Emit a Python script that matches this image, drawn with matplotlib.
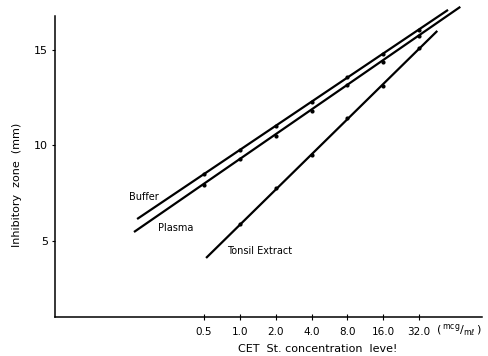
import matplotlib
matplotlib.use('Agg')
import matplotlib.pyplot as plt

# concentration levels (mcg/ml) and inhibitory zone (mm)
conc = [0.5, 1.0, 2.0, 4.0, 8.0, 16.0, 32.0]
conc_labels = ['0.5', '1.0', '2.0', '4.0', '8.0', '16.0', '32.0']
buffer_zone = [8.5, 9.76, 11.02, 12.28, 13.59, 14.79, 16.05]
plasma_zone = [7.93, 9.3, 10.5, 11.81, 13.17, 14.37, 15.73]
tonsil_conc = [1.0, 2.0, 4.0, 8.0, 16.0, 32.0]
tonsil_zone = [5.89, 7.77, 9.5, 11.44, 13.12, 15.1]

# fitted lines (start / end)
buffer_fit_x = [0.137, 56.0]
buffer_fit_y = [6.15, 17.1]
plasma_fit_x = [0.129, 71.0]
plasma_fit_y = [5.47, 17.26]
tonsil_fit_x = [0.52, 45.5]
tonsil_fit_y = [4.11, 16.0]

fig = plt.figure(figsize=(4.88, 3.56), dpi=100)
ax = fig.add_axes([55/488, 1-317/356, 427/488, 301/356])

ax.set_xscale('log', base=2)
ax.set_xlim(0.028, 108)
ax.set_ylim(1.02, 16.78)

for fx, fy in [(buffer_fit_x, buffer_fit_y), (plasma_fit_x, plasma_fit_y), (tonsil_fit_x, tonsil_fit_y)]:
    ax.plot(fx, fy, color='black', lw=1.6, clip_on=False, solid_capstyle='butt')
for cx, cy in [(conc, buffer_zone), (conc, plasma_zone), (tonsil_conc, tonsil_zone)]:
    ax.plot(cx, cy, 'o', color='black', ms=2.0, clip_on=False)

ax.text(0.117, 7.3, 'Buffer', fontsize=7, va='center', ha='left')
ax.text(0.205, 5.7, 'Plasma', fontsize=7, va='center', ha='left')
ax.text(0.78, 4.45, 'Tonsil Extract', fontsize=7, va='center', ha='left')

ax.set_xticks(conc)
ax.set_xticklabels(conc_labels)
ax.minorticks_off()
ax.set_yticks([5, 10, 15])
ax.tick_params(axis='x', direction='inout', length=5, width=0.8, labelsize=7.5, pad=5)
ax.tick_params(axis='y', direction='out', length=2, width=0.8, labelsize=8, pad=3)

for s in ['top', 'right']:
    ax.spines[s].set_visible(False)
for s in ['left', 'bottom']:
    ax.spines[s].set_linewidth(1.1)

ax.text(1.0, -0.043, r'$(\,^{\mathrm{mcg}}/_{\mathrm{m}\ell}\,)$', transform=ax.transAxes,
        ha='right', va='center', fontsize=8)
ax.set_xlabel('CET  St. concentration  leve!', fontsize=8, labelpad=4)
ax.set_ylabel('Inhibitory  zone  (mm)', fontsize=8, labelpad=10)
ax.yaxis.set_label_coords(-0.078, 0.44)
ax.xaxis.set_label_coords(0.615, -0.09)

fig.savefig('out.png', dpi=100)
